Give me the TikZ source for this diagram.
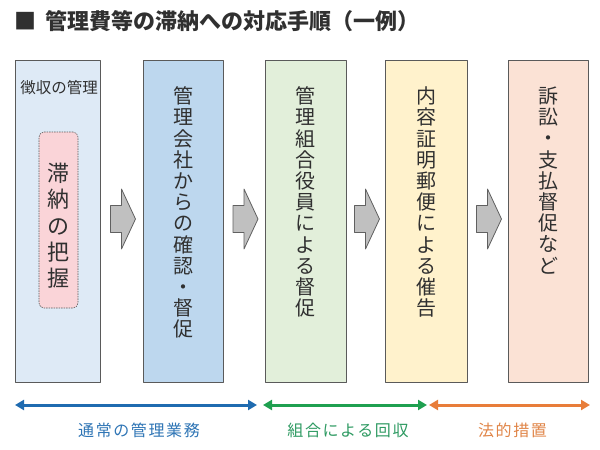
\documentclass[tikz,border=0pt]{standalone}
\usepackage{fontspec}
\setmainfont{Noto Sans CJK JP}
\usetikzlibrary{calc,arrows.meta}
\definecolor{frame}{HTML}{5A5A5A}
\definecolor{ink}{HTML}{303030}
\definecolor{boxA}{HTML}{DEEAF6}
\definecolor{boxB}{HTML}{BDD7EE}
\definecolor{boxC}{HTML}{E2EFDA}
\definecolor{boxD}{HTML}{FFF2CC}
\definecolor{boxE}{HTML}{FBE2D5}
\definecolor{rosa}{HTML}{FAD4D8}
\definecolor{blkfill}{HTML}{C0C0C0}
\definecolor{blkline}{HTML}{606060}
\definecolor{barblue}{HTML}{1F6BB0}
\definecolor{bargreen}{HTML}{1FA050}
\definecolor{barorange}{HTML}{E87D3A}
\definecolor{lblblue}{HTML}{2F75B5}
\definecolor{lblgreen}{HTML}{2E9A62}
\definecolor{lblorange}{HTML}{E08548}
\begin{document}
\begin{tikzpicture}[x=1pt,y=-1pt,line join=round,>={Triangle[length=9pt,width=10pt]}]
		\tikzset{box/.style={draw=frame,line width=0.8pt,minimum height=322pt,inner sep=0pt},
			tate/.style={anchor=north,align=center,inner sep=0pt,text=ink,font=\fontsize{20}{21.2}\selectfont},
			blk/.style={fill=blkfill,draw=blkline,line width=0.8pt},
			bar/.style={<->,line width=3pt},
			lbl/.style={font=\fontsize{16}{16}\selectfont\addfontfeature{LetterSpace=10}}}
		\useasboundingbox (0,0) rectangle (600,450);
		\node[anchor=west,inner sep=0pt,text=ink,font=\fontsize{22}{22}\selectfont\bfseries] (title) at (14,21) {■\hspace{9pt}管理費等の滞納への対応手順（一例）};
		\node[box,fill=boxA,minimum width=85pt] (b1) at (57.5,221) {};
		\node[box,fill=boxB,minimum width=80pt] (b2) at (183,221) {};
		\node[box,fill=boxC,minimum width=81pt] (b3) at (305.5,221) {};
		\node[box,fill=boxD,minimum width=82pt] (b4) at (426,221) {};
		\node[box,fill=boxE,minimum width=80pt] (b5) at (548,221) {};
		\node[text=ink,inner sep=0pt,font=\fontsize{15.5}{15.5}\selectfont] (t1) at (59,88) {徴収の管理};
		\node[draw=frame,dash pattern=on 1.5pt off 1pt,line width=0.6pt,rounded corners=5pt,fill=rosa,minimum width=39pt,minimum height=176pt] (p1) at (58.5,220) {};
		\node[tate,font=\fontsize{22}{26.4}\selectfont] (t1b) at ([yshift=-31pt]p1.north) {滞\\納\\の\\把\\握};
		\node[tate] (t2) at ([yshift=-27pt]b2.north) {管\\理\\会\\社\\か\\ら\\の\\確\\認\\・\\督\\促};
		\node[tate] (t3) at ([yshift=-27pt]b3.north) {管\\理\\組\\合\\役\\員\\に\\よ\\る\\督\\促};
		\node[tate] (t4) at ([yshift=-27pt]b4.north) {内\\容\\証\\明\\郵\\便\\に\\よ\\る\\催\\告};
		\node[tate] (t5) at ([yshift=-27pt]b5.north) {訴\\訟\\・\\支\\払\\督\\促\\な\\ど};
		\foreach \a/\b in {b1/b2,b2/b3,b3/b4,b4/b5}{
		\coordinate (m\a) at ($(\a.east)!.5!(\b.west)+(1.5,-2)$);
		\draw[blk] ([shift={(-12.5,-13.5)}]m\a) -- ++(11,0) -- ++(0,-16.5) -- ++(14,30) -- ++(-14,30) -- ++(0,-16.5) -- ++(-11,0) -- cycle;
		}
		\coordinate (u0) at (15,405);
		\coordinate (u1) at (257,405);
		\coordinate (k0) at (263,405);
		\coordinate (k1) at (427,405);
		\coordinate (h0) at (429,405);
		\coordinate (h1) at (590,405);
		\draw[bar,barblue] (u0) -- (u1);
		\draw[bar,bargreen] (k0) -- (k1);
		\draw[bar,barorange] (h0) -- (h1);
		\node[lbl,text=lblblue] (lu) at ($(u0)!.5!(u1)+(3,25)$) {通常の管理業務};
		\node[lbl,text=lblgreen] (lk) at ($(k0)!.5!(k1)+(3,25)$) {組合による回収};
		\node[lbl,text=lblorange] (lh) at ($(h0)!.5!(h1)+(3,25)$) {法的措置};
\end{tikzpicture}
\end{document}
